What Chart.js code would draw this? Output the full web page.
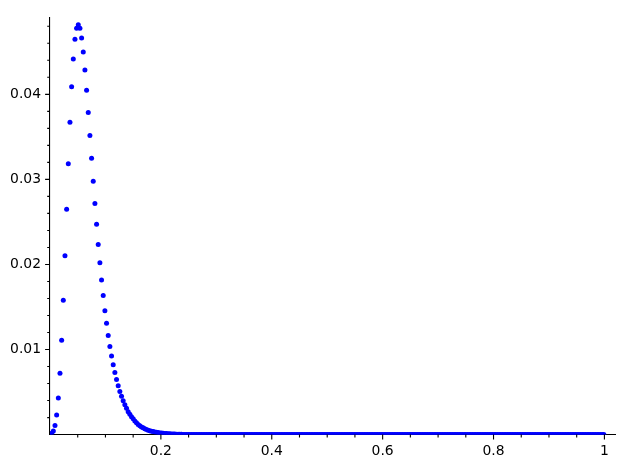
<!DOCTYPE html>
<html>
<head>
<meta charset="utf-8">
<script src="https://cdn.jsdelivr.net/npm/chart.js@4/dist/chart.umd.min.js"></script>
<style>
  html, body { margin: 0; padding: 0; background: #fff; }
  canvas { display: block; }
</style>
</head>
<body>
<canvas id="plot" width="628" height="468"></canvas>
<script>
// grid spacing of the sampled points along x
const xStep = 0.003;

// values, point by point (x = index * xStep)
const peakValues = [
    0, 0.00015, 0.00042, 0.00108, 0.00229, 0.0043, 0.00721, 0.01108, 0.01578, 0.02101,
    0.02648, 0.03183, 0.03671, 0.0409, 0.04415, 0.04648, 0.04776, 0.04817, 0.04776, 0.04663,
    0.04497, 0.04287, 0.04047, 0.03787, 0.03515, 0.0325, 0.02977, 0.02717, 0.02473, 0.02236,
    0.0202, 0.01817, 0.01634, 0.01457, 0.0131, 0.01166, 0.01035, 0.00924, 0.00822, 0.00729,
    0.00648, 0.00573, 0.00508, 0.0045, 0.00399, 0.00352, 0.0031, 0.0027, 0.0024, 0.0021,
    0.00185, 0.0016, 0.0014, 0.0012, 0.00105, 0.0009, 0.0008, 0.0007, 0.0006, 0.00052,
    0.00045, 0.0004, 0.00035, 0.0003, 0.00027, 0.00024, 0.0002, 0.00018, 0.00016, 0.00014,
    0.00012, 0.0001, 0.00009, 0.00008, 0.00007, 0.00006, 0.00005, 0.00004, 0.00003, 0.00003,
    0.00002, 0.00002, 0.00001, 0.00001
];
// the flat part from about x = 0.25 up to x = 1 (reads as 0)
const tailValues = [
    0,0,0,0,0,0,0,0,0,0, 0,0,0,0,0,0,0,0,0,0, 0,0,0,0,0,0,0,0,0,0, 0,0,0,0,0,0,0,0,0,0, 0,0,0,0,0,0,0,0,0,0,
    0,0,0,0,0,0,0,0,0,0, 0,0,0,0,0,0,0,0,0,0, 0,0,0,0,0,0,0,0,0,0, 0,0,0,0,0,0,0,0,0,0, 0,0,0,0,0,0,0,0,0,0,
    0,0,0,0,0,0,0,0,0,0, 0,0,0,0,0,0,0,0,0,0, 0,0,0,0,0,0,0,0,0,0, 0,0,0,0,0,0,0,0,0,0, 0,0,0,0,0,0,0,0,0,0,
    0,0,0,0,0,0,0,0,0,0, 0,0,0,0,0,0,0,0,0,0, 0,0,0,0,0,0,0,0,0,0, 0,0,0,0,0,0,0,0,0,0, 0,0,0,0,0,0,0,0,0,0,
    0,0,0,0,0,0,0,0,0,0, 0,0,0,0,0,0,0,0,0,0, 0,0,0,0,0,0,0,0,0,0, 0,0,0,0,0,0,0,0,0,0, 0,0,0,0,0,0,0,0,0,0
];
const yValues = peakValues.concat(tailValues);

const xTickValues = [0.2, 0.4, 0.6, 0.8, 1];
const xTickLabels = ['0.2', '0.4', '0.6', '0.8', '1'];
const yTickValues = [0.01, 0.02, 0.03, 0.04];
const yTickLabels = ['0.01', '0.02', '0.03', '0.04'];

const xMax = 1.02;
const yMax = 0.04905;
const xMinorStep = 0.05;
const yMinorStep = 0.002;

const points = yValues.map((y, i) => ({ x: i * xStep, y: y }));

// small outward tick marks, like matplotlib (major 3.5pt, minor 2pt)
const tickMarks = {
    id: 'tickMarks',
    afterDraw(chart) {
        const ctx = chart.ctx;
        const xs = chart.scales.x, ys = chart.scales.y;
        const area = chart.chartArea;
        const major = 4.9, minor = 2.8;
        ctx.save();
        ctx.strokeStyle = '#000';
        ctx.lineWidth = 1.1;
        ctx.beginPath();
        for (let k = 1; k * xMinorStep <= 1.0001; k++) {
            const v = k * xMinorStep;
            const isMajor = xTickValues.some(t => Math.abs(t - v) < 1e-6);
            const px = xs.getPixelForValue(v);
            ctx.moveTo(px, area.bottom);
            ctx.lineTo(px, area.bottom + (isMajor ? major : minor));
        }
        for (let k = 1; k * yMinorStep <= yMax; k++) {
            const v = k * yMinorStep;
            const isMajor = yTickValues.some(t => Math.abs(t - v) < 1e-6);
            const py = ys.getPixelForValue(v);
            ctx.moveTo(area.left, py);
            ctx.lineTo(area.left - (isMajor ? major : minor), py);
        }
        ctx.stroke();
        ctx.restore();
    }
};

const labelFont = { family: 'DejaVu Sans', size: 13.9 };

new Chart(document.getElementById('plot').getContext('2d'), {
    type: 'scatter',
    data: {
        datasets: [{
            data: points,
            pointRadius: 2.5,
            pointBackgroundColor: '#0000ff',
            pointBorderWidth: 0,
            showLine: false
        }]
    },
    options: {
        responsive: false,
        animation: false,
        devicePixelRatio: 1,
        events: [],
        layout: { padding: { top: 13, right: 12.5, left: 0, bottom: 0 } },
        plugins: {
            legend: { display: false },
            tooltip: { enabled: false }
        },
        scales: {
            x: {
                type: 'linear',
                position: 'bottom',
                min: 0,
                max: xMax,
                z: 1,
                afterFit: s => { s.height = 33.4; },
                afterBuildTicks: s => { s.ticks = xTickValues.map(v => ({ value: v })); },
                grid: { display: true, drawOnChartArea: false, drawTicks: false },
                border: { display: true, color: '#000', width: 1.1 },
                ticks: {
                    callback: (v, i) => xTickLabels[i],
                    color: '#000',
                    font: labelFont,
                    padding: 8.5,
                    maxRotation: 0,
                    autoSkip: false
                }
            },
            y: {
                type: 'linear',
                position: 'left',
                min: 0,
                max: yMax,
                z: 1,
                afterFit: s => { s.width = 50; },
                afterBuildTicks: s => { s.ticks = yTickValues.map(v => ({ value: v })); },
                grid: { display: true, drawOnChartArea: false, drawTicks: false },
                border: { display: true, color: '#000', width: 1.1 },
                ticks: {
                    callback: (v, i) => yTickLabels[i],
                    color: '#000',
                    font: labelFont,
                    padding: 9,
                    autoSkip: false
                }
            }
        }
    },
    plugins: [tickMarks]
});
</script>
</body>
</html>
